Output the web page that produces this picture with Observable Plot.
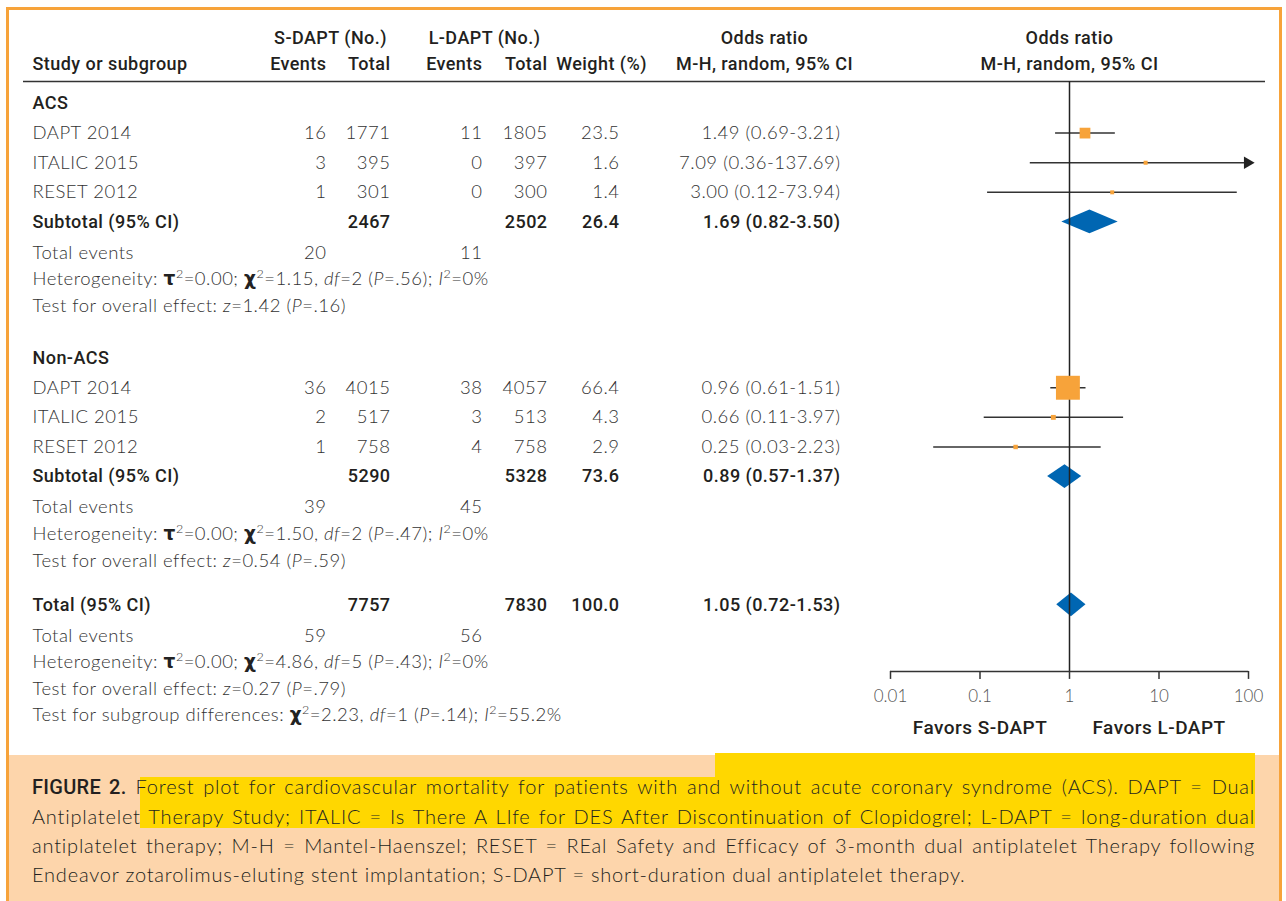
<!DOCTYPE html>
<html>
<head>
<meta charset="utf-8">
<script src="https://cdn.jsdelivr.net/npm/d3@7"></script>
<script src="https://cdn.jsdelivr.net/npm/@observablehq/plot@0.6"></script>
<style>
  html, body { margin: 0; padding: 0; background: #fff; }
  #fig { position: relative; width: 1286px; height: 901px; overflow: hidden; background: #fff; }
  #frame { position: absolute; left: 6px; top: 7px; width: 1276px; height: 900px; box-sizing: border-box;
           border-left: 3px solid #F7A33A; border-top: 3px solid #F7A33A; border-right: 3px solid #F7A33A; }
  #chart { position: absolute; left: 0; top: 0; width: 1286px; height: 755px; }
  #chart svg { position: absolute; left: 0; top: 0; }
  #cap { position: absolute; left: 9px; top: 755px; width: 1270px; height: 146px; background: #FDD5AB; }
  .hl { position: absolute; background: #FFD700; }
  #captext { position: absolute; left: 32px; top: 772px; width: 1223px;
             font-family: Lato, "Open Sans", sans-serif; font-weight: 300; font-size: 20px; letter-spacing: 0.8px;
             line-height: 29px; color: #231f20; }
  #captext .ln { white-space: nowrap; }
  #captext .j { text-align: justify; text-align-last: justify; white-space: normal; }
  #captext b { font-family: Roboto, sans-serif; font-weight: 500; letter-spacing: 0.3px; }
</style>
</head>
<body>
<div id="fig">
  <div id="cap"></div>
  <div id="frame"></div>
  <div class="hl" style="left:715px; top:753px; width:540px; height:25px;"></div>
  <div class="hl" style="left:140px; top:777px; width:1115px; height:51px;"></div>
  <div id="captext">
    <div class="ln j"><b>FIGURE 2.</b> Forest plot for cardiovascular mortality for patients with and without acute coronary syndrome (ACS). DAPT = Dual</div>
    <div class="ln j">Antiplatelet Therapy Study; ITALIC = Is There A LIfe for DES After Discontinuation of Clopidogrel; L-DAPT = long-duration dual</div>
    <div class="ln j">antiplatelet therapy; M-H = Mantel-Haenszel; RESET = REal Safety and Efficacy of 3-month dual antiplatelet Therapy following</div>
    <div class="ln">Endeavor zotarolimus-eluting stent implantation; S-DAPT = short-duration dual antiplatelet therapy.</div>
  </div>
  <div id="chart"></div>
</div>
<script>
// ---------------- DATA ----------------
const groups = ["ACS", "Non-ACS"];
const studyNames = ["DAPT 2014", "ITALIC 2015", "RESET 2012"];
const sEvents = [[16, 3, 1], [36, 2, 1]];
const sTotal  = [[1771, 395, 301], [4015, 517, 758]];
const lEvents = [[11, 0, 0], [38, 3, 4]];
const lTotal  = [[1805, 397, 300], [4057, 513, 758]];
const weights = [[23.5, 1.6, 1.4], [66.4, 4.3, 2.9]];
const orEst = [[1.49, 7.09, 3.00], [0.96, 0.66, 0.25]];
const orLo  = [[0.69, 0.36, 0.12], [0.61, 0.11, 0.03]];
const orHi  = [[3.21, 137.69, 73.94], [1.51, 3.97, 2.23]];

const subSTotal = [2467, 5290];
const subLTotal = [2502, 5328];
const subWeight = [26.4, 73.6];
const subEst = [1.69, 0.89];
const subLo  = [0.82, 0.57];
const subHi  = [3.50, 1.37];
const subSEvents = [20, 39];
const subLEvents = [11, 45];
const hetTau2 = ["0.00", "0.00"];
const hetChi2 = ["1.15", "1.50"];
const hetDf   = [2, 2];
const hetP    = [".56", ".47"];
const hetI2   = ["0%", "0%"];
const effZ = ["1.42", "0.54"];
const effP = [".16", ".59"];

const totalSTotal = 7757, totalLTotal = 7830, totalWeight = 100.0;
const totalEst = 1.05, totalLo = 0.72, totalHi = 1.53;
const totalSEvents = 59, totalLEvents = 56;
const totalHet = {tau2: "0.00", chi2: "4.86", df: 5, p: ".43", i2: "0%"};
const totalEff = {z: "0.27", p: ".79"};
const subgroupDiff = {chi2: "2.23", df: 1, p: ".14", i2: "55.2%"};

const xTicks = [0.01, 0.1, 1, 10, 100];
const favorLabels = ["Favors S-DAPT", "Favors L-DAPT"];
const favorAt = [0.1, 10];
const headTop = ["S-DAPT (No.)", "L-DAPT (No.)", "Odds ratio"];
const headBottom = ["Study or subgroup", "Events", "Total", "Events", "Total", "Weight (%)", "M-H, random, 95% CI"];
const forestHead = ["Odds ratio", "M-H, random, 95% CI"];

// ---------------- LAYOUT / STYLE ----------------
const W = 1286, H = 755;
const Y0 = 103, UNIT = 29.61;                   // pixel of slot 0, pixels per row slot
const STEP = {row: 1, events: 1.04, stat: 0.9, groupGap: 1.76, totalGap: 1.49};
const SLOT = {head1: -2.2, head2: -1.32, headLine: -0.74, axis: 19.18, favors: 21.1};
const COL = {name: 32, sEv: 326, sTot: 390, lEv: 482, lTot: 547, w: 619, or: 840};
const HEAD_TOP_POS = [[330, "middle"], [484, "middle"], [764, "middle"]];
const HEAD_BOT_POS = [[32, "start"], [326, "end"], [390, "end"], [482, "end"], [547, "end"], [601, "middle"], [764, "middle"]];
const X_MIN = 0.01, X_MAX = 100;
const FB = "Roboto, 'Noto Sans', sans-serif";
const FL = "Lato, 'Open Sans', sans-serif";
const TXT = "#333", HDR = "#231f20", ORANGE = "#F7A33A", BLUE = "#0066B2", LINE = "#333";

// ---------------- ROWS ----------------
const het = (t, c, df, p, i2) => `Heterogeneity: {g:τ}{s:2}=${t}; {g:χ}{s:2}=${c}, {i:df}=${df} ({i:P}=${p}); {i:I}{s:2}=${i2}`;
const eff = (z, p) => `Test for overall effect: {i:z}=${z} ({i:P}=${p})`;
const orLabel = (e, l, h) => `${e.toFixed(2)} (${l.toFixed(2)}-${h.toFixed(2)})`;

const rows = [];
let s = 0;
groups.forEach((g, gi) => {
  if (gi) s += STEP.groupGap;
  rows.push({kind: "group", slot: s, name: g});
  studyNames.forEach((nm, j) => {
    s += STEP.row;
    rows.push({kind: "study", slot: s, name: nm, se: sEvents[gi][j], st: sTotal[gi][j], le: lEvents[gi][j], lt: lTotal[gi][j],
               w: weights[gi][j], est: orEst[gi][j], lo: orLo[gi][j], hi: orHi[gi][j]});
  });
  s += STEP.row;
  rows.push({kind: "sub", slot: s, name: "Subtotal (95% CI)", st: subSTotal[gi], lt: subLTotal[gi], w: subWeight[gi],
             est: subEst[gi], lo: subLo[gi], hi: subHi[gi]});
  s += STEP.events;
  rows.push({kind: "events", slot: s, name: "Total events", se: subSEvents[gi], le: subLEvents[gi]});
  s += STEP.stat;
  rows.push({kind: "stat", slot: s, name: het(hetTau2[gi], hetChi2[gi], hetDf[gi], hetP[gi], hetI2[gi])});
  s += STEP.stat;
  rows.push({kind: "stat", slot: s, name: eff(effZ[gi], effP[gi])});
});
s += STEP.totalGap;
rows.push({kind: "sub", slot: s, name: "Total (95% CI)", st: totalSTotal, lt: totalLTotal, w: totalWeight, est: totalEst, lo: totalLo, hi: totalHi});
s += STEP.events;
rows.push({kind: "events", slot: s, name: "Total events", se: totalSEvents, le: totalLEvents});
s += STEP.stat;
rows.push({kind: "stat", slot: s, name: het(totalHet.tau2, totalHet.chi2, totalHet.df, totalHet.p, totalHet.i2)});
s += STEP.stat;
rows.push({kind: "stat", slot: s, name: eff(totalEff.z, totalEff.p)});
s += STEP.stat;
rows.push({kind: "stat", slot: s, name: `Test for subgroup differences: {g:χ}{s:2}=${subgroupDiff.chi2}, {i:df}=${subgroupDiff.df} ({i:P}=${subgroupDiff.p}); {i:I}{s:2}=${subgroupDiff.i2}`});
const LAST = s;

const yScale = {type: "linear", domain: [0, LAST], range: [Y0, Y0 + LAST * UNIT]};
const isBold = d => d.kind === "group" || d.kind === "sub";
const studies = rows.filter(d => d.kind === "study");
const summaries = rows.filter(d => d.kind === "sub");

// ---------------- TABLE PLOT ----------------
const reg = {fontFamily: FL, fontWeight: 300, fontSize: 18.5, fill: TXT};
const bold = {fontFamily: FB, fontWeight: 500, fontSize: 18, fill: HDR};
const numCol = (data, key, col, style) =>
  Plot.text(data.filter(d => d[key] != null), {x: () => col, y: "slot", text: d => key === "w" ? d.w.toFixed(1) : String(d[key]), textAnchor: "end", ...style});

const table = Plot.plot({
  width: W, height: H, margin: 0,
  style: {background: "transparent", overflow: "visible"},
  x: {type: "linear", domain: [0, W], range: [0, W], axis: null},
  y: {...yScale, axis: null},
  marks: [
    Plot.text(headTop, {x: (d, i) => HEAD_TOP_POS[i][0], y: () => SLOT.head1, text: d => d, textAnchor: "middle", ...bold}),
    Plot.text(headBottom.map((t, i) => ({t, x: HEAD_BOT_POS[i][0], a: HEAD_BOT_POS[i][1]})).filter(d => d.a === "start"),
      {x: "x", y: () => SLOT.head2, text: "t", textAnchor: "start", ...bold}),
    Plot.text(headBottom.map((t, i) => ({t, x: HEAD_BOT_POS[i][0], a: HEAD_BOT_POS[i][1]})).filter(d => d.a === "end"),
      {x: "x", y: () => SLOT.head2, text: "t", textAnchor: "end", ...bold}),
    Plot.text(headBottom.map((t, i) => ({t, x: HEAD_BOT_POS[i][0], a: HEAD_BOT_POS[i][1]})).filter(d => d.a === "middle"),
      {x: "x", y: () => SLOT.head2, text: "t", textAnchor: "middle", ...bold}),
    Plot.ruleY([SLOT.headLine], {x1: 23, x2: 1265, stroke: LINE, strokeWidth: 1.5}),
    Plot.text(rows.filter(d => !isBold(d)), {x: () => COL.name, y: "slot", text: "name", textAnchor: "start", ...reg}),
    Plot.text(rows.filter(isBold), {x: () => COL.name, y: "slot", text: "name", textAnchor: "start", ...bold}),
    numCol(studies, "se", COL.sEv, reg),
    numCol(studies, "st", COL.sTot, reg),
    numCol(studies, "le", COL.lEv, reg),
    numCol(studies, "lt", COL.lTot, reg),
    numCol(studies, "w", COL.w, reg),
    Plot.text(studies, {x: () => COL.or, y: "slot", text: d => orLabel(d.est, d.lo, d.hi), textAnchor: "end", ...reg}),
    numCol(rows.filter(d => d.kind === "events"), "se", COL.sEv, reg),
    numCol(rows.filter(d => d.kind === "events"), "le", COL.lEv, reg),
    numCol(summaries, "st", COL.sTot, bold),
    numCol(summaries, "lt", COL.lTot, bold),
    numCol(summaries, "w", COL.w, bold),
    Plot.text(summaries, {x: () => COL.or, y: "slot", text: d => orLabel(d.est, d.lo, d.hi), textAnchor: "end", ...bold})
  ]
});

// ---------------- FOREST PLOT ----------------
const diamondPts = summaries.flatMap((d, i) => [
  {id: i, x: d.lo,  y1: d.slot, y2: d.slot},
  {id: i, x: d.est, y1: d.slot - 0.4, y2: d.slot + 0.4},
  {id: i, x: d.hi,  y1: d.slot, y2: d.slot}
]);
const axisPx = Y0 + SLOT.axis * UNIT;
const maxW = d3.max(studies, d => d.w);

const forest = Plot.plot({
  width: W, height: H,
  marginLeft: 890, marginRight: W - 1248, marginTop: 0, marginBottom: H - axisPx,
  style: {background: "transparent", overflow: "visible"},
  x: {type: "log", domain: [X_MIN, X_MAX]},
  y: {...yScale, axis: null},
  r: {type: "linear", domain: [0, maxW], range: [2, 13.5]},
  marks: [
    Plot.text(forestHead, {x: () => 1, y: (d, i) => i ? SLOT.head2 : SLOT.head1, text: d => d, textAnchor: "middle", ...bold}),
    Plot.link(studies, {x1: "lo", x2: d => Math.min(d.hi, X_MAX), y1: "slot", y2: "slot", stroke: LINE, strokeWidth: 1.5}),
    Plot.dot(studies.filter(d => d.hi > X_MAX), {x: () => X_MAX, y: "slot", symbol: "triangle", rotate: 90, r: 4.6, dx: -1, fill: "#222", stroke: null}),
    Plot.area(diamondPts, {x1: "x", y1: "y1", y2: "y2", z: "id", fill: BLUE}),
    Plot.ruleX([1], {y1: SLOT.headLine, y2: SLOT.axis, stroke: "#222", strokeWidth: 1.5}),
    Plot.dot(studies, {x: "est", y: "slot", r: "w", symbol: "square", fill: ORANGE, stroke: null}),
    Plot.ruleY([SLOT.axis], {x1: X_MIN, x2: X_MAX, stroke: LINE, strokeWidth: 1.5}),
    Plot.axisX({ticks: xTicks, tickFormat: d => String(d), tickSize: 8, tickPadding: 11, label: null,
                stroke: LINE, strokeWidth: 1.5, fill: "#555", fontFamily: FL, fontWeight: 300, fontSize: 17}),
    Plot.text(favorLabels, {x: (d, i) => favorAt[i], y: () => SLOT.favors, text: d => d, textAnchor: "middle", ...bold, fontSize: 19})
  ]
});

// ---------------- RICH TEXT (italics, superscripts, spacing) ----------------
const NS = "http://www.w3.org/2000/svg";
function richify(root) {
  root.querySelectorAll("text").forEach(t => {
    const src = t.textContent;
    if (!src.includes("{")) return;
    const parts = src.split(/(\{[isg]:[^}]*\})/).filter(Boolean);
    while (t.firstChild) t.removeChild(t.firstChild);
    let raised = false;
    for (const p of parts) {
      const m = /^\{([isg]):([^}]*)\}$/.exec(p);
      const ts = document.createElementNS(NS, "tspan");
      const sup = m && m[1] === "s";
      if (sup && !raised) { ts.setAttribute("dy", "-7"); raised = true; }
      else if (!sup && raised) { ts.setAttribute("dy", "7"); raised = false; }
      if (sup) ts.setAttribute("font-size", "12.5");
      if (m && m[1] === "i") ts.setAttribute("font-style", "italic");
      if (m && m[1] === "g") { ts.setAttribute("font-family", "'DejaVu Sans', sans-serif"); ts.setAttribute("font-weight", "bold"); ts.setAttribute("fill", "#222"); }
      ts.textContent = m ? m[2] : p;
      t.appendChild(ts);
    }
  });
}
function spacing(root) {
  root.querySelectorAll("text").forEach(t => {
    const fam = t.getAttribute("font-family") || (t.parentNode && t.parentNode.getAttribute && t.parentNode.getAttribute("font-family")) || "";
    t.setAttribute("letter-spacing", fam.startsWith("Lato") ? "0.5" : "0.45");
  });
}
richify(table);
spacing(table);
forest.querySelectorAll("text").forEach(t => {
  const fam = t.getAttribute("font-family") || (t.parentNode && t.parentNode.getAttribute && t.parentNode.getAttribute("font-family")) || "";
  if (fam.startsWith("Roboto")) t.setAttribute("letter-spacing", "0.5");
});

const chart = document.getElementById("chart");
chart.appendChild(table);
chart.appendChild(forest);
</script>
</body>
</html>
